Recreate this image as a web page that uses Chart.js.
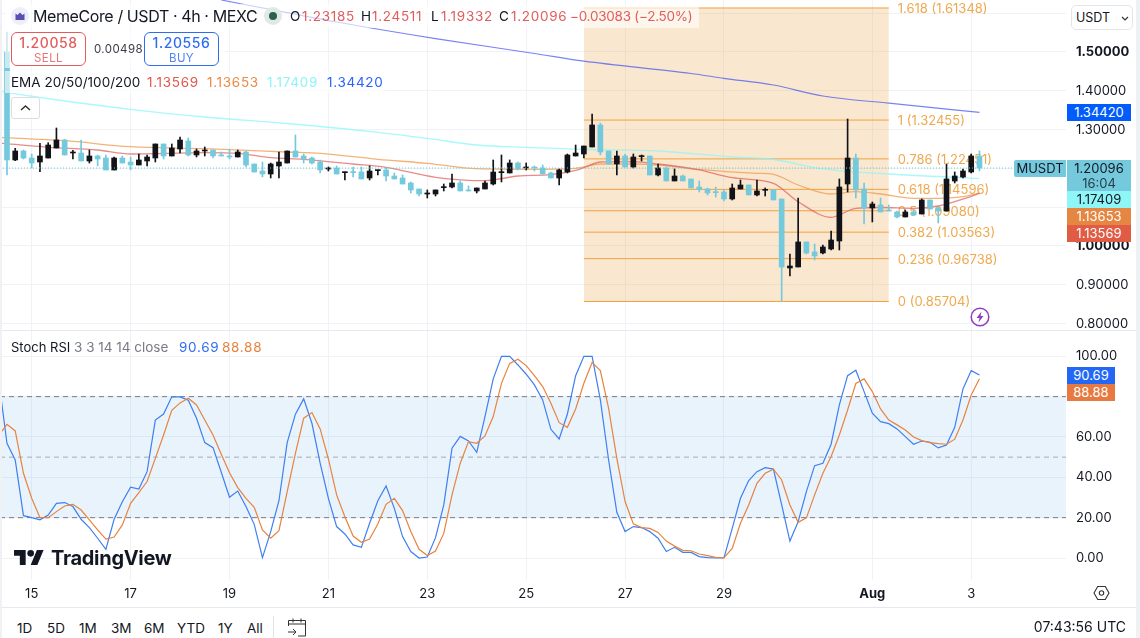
<!DOCTYPE html>
<html>
<head>
<meta charset="utf-8">
<title>MemeCore / USDT</title>
<script src="https://cdn.jsdelivr.net/npm/chart.js@4/dist/chart.umd.min.js"></script>
<style>
html, body { margin: 0; padding: 0; background: #fff; }
body { width: 1140px; height: 638px; overflow: hidden; position: relative; font-family: Inter, sans-serif; color: #131722; }
canvas { position: absolute; left: 0; display: block; }
#priceChart { top: 0; }
#stochChart { top: 331px; }
.abs { position: absolute; white-space: nowrap; }
.fade { position: absolute; background: rgba(255,255,255,.62); }
.tag { position: absolute; left: 1067px; height: 17px; line-height: 17px; text-align: center; font-size: 13px; }
.trade { position: absolute; top: 32px; width: 73px; height: 32px; border-radius: 6px; background: rgba(255,255,255,.7); text-align: center; border: 1px solid; }
.trade b { display: block; font-weight: 500; font-size: 14px; line-height: 18px; margin-top: 1px; letter-spacing: .6px; }
.trade span { display: block; font-size: 11.5px; line-height: 13px; opacity: .85; letter-spacing: .4px; }
.range { position: absolute; top: 619px; font-size: 13.5px; line-height: 18px; color: #131722; }
.ohlc { position: absolute; top: 7px; font-size: 13.5px; line-height: 18px; white-space: nowrap; }
.red { color: #e25c5c; letter-spacing: .7px; }
.row2 { position: absolute; top: 73px; font-size: 13.5px; line-height: 18px; letter-spacing: .7px; white-space: nowrap; }
.row3 { position: absolute; top: 338px; font-size: 13.5px; line-height: 18px; white-space: nowrap; }
</style>
</head>
<body>
<canvas id="priceChart" width="1140" height="330"></canvas>
<canvas id="stochChart" width="1140" height="276"></canvas>

<!-- edges and pane separators -->
<div class="abs" style="left:0;top:0;width:2px;height:638px;background:#f0f1f4"></div>
<div class="abs" style="left:1136px;top:0;width:4px;height:638px;background:#f0f1f4"></div>
<div class="abs" style="left:2px;top:330px;width:1134px;height:1px;background:#e6e8ee"></div>
<div class="abs" style="left:2px;top:607px;width:1134px;height:1px;background:#e6e8ee"></div>

<!-- legend -->
<div class="fade" style="left:5px;top:4px;width:694px;height:24px"></div>
<div class="fade" style="left:5px;top:30px;width:220px;height:38px"></div>
<div class="fade" style="left:5px;top:71px;width:380px;height:22px"></div>

<svg class="abs" style="left:11px;top:7px" width="18" height="18" viewBox="0 0 18 18">
  <circle cx="9" cy="9" r="9" fill="#eeeefa"/>
  <path d="M4.5 13V6.5l2 1.5L9 5.5 11.5 8l2-1.5V13z" fill="#5a4fb0"/>
</svg>
<div class="abs" style="left:33px;top:5px;font-size:16px;line-height:22px;letter-spacing:-.4px">MemeCore / USDT · 4h · MEXC</div>
<svg class="abs" style="left:264px;top:7px" width="18" height="18" viewBox="0 0 18 18">
  <circle cx="9" cy="9" r="9" fill="#dfeae7"/>
  <circle cx="9" cy="9" r="4" fill="#2f5e50"/>
</svg>
<div class="ohlc" style="left:290px">O</div><div class="ohlc red" style="left:302px">1.23185</div>
<div class="ohlc" style="left:361px">H</div><div class="ohlc red" style="left:372px">1.24511</div>
<div class="ohlc" style="left:431px">L</div><div class="ohlc red" style="left:441px">1.19332</div>
<div class="ohlc" style="left:499px">C</div><div class="ohlc red" style="left:511px">1.20096</div>
<div class="ohlc red" style="left:570px;letter-spacing:-.25px">−0.03083 (−2.50%)</div>

<div class="trade" style="left:11px;border-color:#e25c5c;color:#e25c5c"><b>1.20058</b><span>SELL</span></div>
<div class="abs" style="left:94px;top:42px;font-size:11.5px;line-height:15px;color:#3a3d45;letter-spacing:.4px">0.00498</div>
<div class="trade" style="left:144px;border-color:#2f6df0;color:#2f6df0"><b>1.20556</b><span>BUY</span></div>

<div class="row2" style="left:11px;letter-spacing:0">EMA 20/50/100/200</div>
<div class="row2" style="left:147px;color:#e2574c">1.13569</div>
<div class="row2" style="left:207px;color:#ec8a45">1.13653</div>
<div class="row2" style="left:267px;color:#8ef3f8">1.17409</div>
<div class="row2" style="left:327px;color:#2962ff">1.34420</div>

<div class="abs" style="left:11px;top:97px;width:27px;height:20px;border:1px solid #dcdde2;border-radius:3px;background:rgba(255,255,255,.7)">
  <svg style="position:absolute;left:8px;top:6px" width="11" height="8" viewBox="0 0 11 8"><path d="M1 6l4.5-4L10 6" fill="none" stroke="#333" stroke-width="1.5"/></svg>
</div>

<svg class="abs" style="left:970px;top:307px" width="20" height="20" viewBox="0 0 20 20">
  <circle cx="10" cy="10" r="8.8" fill="none" stroke="#8e3fbe" stroke-width="1.5"/>
  <path d="M11.5 4.5L6.5 11h3l-1 4.5 5-6.5h-3z" fill="#8e3fbe"/>
</svg>

<!-- right scale controls and tags -->
<div class="abs" style="left:1071px;top:5px;width:60px;height:23px;border:1px solid #e3e5ea;border-radius:5px;background:#fff;font-size:12.5px;line-height:23px;text-indent:4px">USDT
  <svg style="position:absolute;left:49px;top:10px" width="8" height="5" viewBox="0 0 8 5"><path d="M1 1l3 3 3-3" fill="none" stroke="#333" stroke-width="1.2"/></svg>
</div>
<div class="tag" style="top:104px;width:64px;background:#005cfa;color:#fff">1.34420</div>
<div class="abs" style="left:1014px;top:160px;width:52px;height:17px;line-height:17px;text-align:center;font-size:13px;background:#74c9dd;border-radius:2px 0 0 2px">MUSDT</div>
<div class="tag" style="top:160px;width:64px;height:31px;line-height:15px;padding-top:1px;box-sizing:border-box;background:#74c9dd">1.20096<br><span style="color:#24414a">16:04</span></div>
<div class="tag" style="top:191px;width:64px;background:#8ff6f8">1.17409</div>
<div class="tag" style="top:208px;width:64px;background:#e58642;color:#fff">1.13653</div>
<div class="tag" style="top:225px;width:64px;background:#e05c44;color:#fff">1.13569</div>
<div class="tag" style="top:367px;width:48px;background:#2268f5;color:#fff">90.69</div>
<div class="tag" style="top:384px;width:48px;background:#e67a40;color:#fff">88.88</div>

<!-- stoch legend and logo -->
<div class="row3" style="left:11px;font-size:13px">Stoch RSI</div>
<div class="row3" style="left:74px;color:#787b86">3 3 14 14 close</div>
<div class="row3" style="left:179px;color:#2f6df0;letter-spacing:.7px">90.69</div>
<div class="row3" style="left:222px;color:#e8833f;letter-spacing:.7px">88.88</div>
<svg class="abs" style="left:14px;top:550px" width="30" height="15" viewBox="0 4 36 18">
  <path d="M14 22H7V11H0V4h14v18zM28 22h-8l7.5-18h8L28 22z" fill="#131722"/><circle cx="20" cy="8" r="4" fill="#131722"/>
</svg>
<div class="abs" style="left:51px;top:545px;font-size:20px;line-height:26px;font-weight:700;letter-spacing:-.3px">TradingView</div>

<!-- bottom bar -->
<svg class="abs" style="left:1093px;top:585px" width="17" height="16" viewBox="0 0 17 16">
  <path d="M1 8l3.7-6.5h7.6L16 8l-3.7 6.5H4.7z" fill="none" stroke="#333" stroke-width="1.1"/><circle cx="8.5" cy="8" r="2.2" fill="none" stroke="#333" stroke-width="1.1"/>
</svg>
<div class="range" style="left:17px">1D</div>
<div class="range" style="left:47px">5D</div>
<div class="range" style="left:79px">1M</div>
<div class="range" style="left:111px">3M</div>
<div class="range" style="left:144px">6M</div>
<div class="range" style="left:177px">YTD</div>
<div class="range" style="left:218px">1Y</div>
<div class="range" style="left:247px">All</div>
<div class="abs" style="left:273px;top:616px;width:1px;height:22px;background:#e0e3eb"></div>
<svg class="abs" style="left:287px;top:617px" width="20" height="20" viewBox="0 0 20 20">
  <path d="M1.5 9V3.5h17V19H11M1.5 7h17M6 1.5v4M14 1.5v4M1 15h8M6 12l3 3-3 3" fill="none" stroke="#333" stroke-width="1"/>
</svg>
<div class="abs" style="left:1032px;top:618px;width:94px;font-size:14px;line-height:18px;text-align:right">07:43:56 UTC</div>

<script>
// candles, index 0 is the first 4h bar on screen
const opens = [1.5000,1.2217,1.2449,1.2268,1.2165,1.2268,1.2526,1.2732,1.2397,1.2397,
    1.2191,1.2320,1.2268,1.1959,1.2268,1.2165,1.2088,1.2191,1.2268,1.2629,
    1.2320,1.2500,1.2706,1.2346,1.2449,1.2474,1.2346,1.2320,1.2294,1.2423,
    1.2113,1.1933,1.1856,1.2062,1.2139,1.2449,1.2320,1.2268,1.2165,1.1985,
    1.2011,1.1890,1.1907,1.1907,1.1753,1.1942,1.1959,1.1804,1.1753,1.1624,
    1.1469,1.1340,1.1340,1.1504,1.1521,1.1624,1.1444,1.1418,1.1469,1.1598,
    1.1890,1.1882,1.2139,1.2011,1.2036,1.2011,1.1882,1.1753,1.1907,1.2320,
    1.2371,1.2552,1.3119,1.2449,1.2113,1.2320,1.2036,1.2303,1.2320,1.1830,
    1.2011,1.1676,1.1804,1.1727,1.1521,1.1469,1.1392,1.1392,1.1212,1.1469,
    1.1572,1.1315,1.1435,1.1444,1.1212,0.9433,0.9459,1.0104,0.9846,0.9820,
    0.9923,1.0129,1.1598,1.2268,1.1469,1.0980,1.1057,1.0928,1.0877,1.0748,
    1.0877,1.0825,1.1186,1.0980,1.0902,1.1675,1.1778,1.1907,1.23185];
const highs = [1.5515,1.2517,1.2474,1.2371,1.2646,1.2663,1.3041,1.2749,1.2466,1.2732,
    1.2474,1.2346,1.2346,1.2294,1.2320,1.2294,1.2371,1.2346,1.2629,1.2629,
    1.2629,1.2809,1.2784,1.2500,1.2552,1.2474,1.2423,1.2500,1.2474,1.2449,
    1.2113,1.2165,1.2139,1.2423,1.2449,1.2861,1.2371,1.2294,1.2217,1.2036,
    1.2062,1.1907,1.2036,1.2036,1.2062,1.1959,1.2011,1.1882,1.1830,1.1650,
    1.1469,1.1444,1.1444,1.1598,1.1856,1.1676,1.1547,1.1495,1.1676,1.2217,
    1.2346,1.2217,1.2165,1.2139,1.2062,1.2088,1.1907,1.1985,1.2371,1.2603,
    1.2577,1.3402,1.3170,1.2449,1.2449,1.2371,1.2371,1.2346,1.2320,1.2113,
    1.2036,1.1985,1.1830,1.1727,1.1676,1.1495,1.1521,1.1444,1.1598,1.1701,
    1.1572,1.1701,1.1495,1.1444,1.1212,0.9794,1.1237,1.0104,1.0052,1.0026,
    1.0387,1.1727,1.3273,1.2371,1.1624,1.1134,1.1237,1.1057,1.0902,1.0928,
    1.0928,1.1212,1.1186,1.1006,1.2114,1.1908,1.1985,1.2371,1.24511];
const lows = [1.1830,1.2199,1.2242,1.2011,1.1916,1.2268,1.2526,1.2346,1.2242,1.2191,
    1.2139,1.2062,1.1959,1.1959,1.2139,1.1959,1.2088,1.2062,1.2165,1.2242,
    1.2320,1.2397,1.2320,1.2294,1.2320,1.2268,1.2320,1.2242,1.2294,1.2036,
    1.1907,1.1779,1.1753,1.1753,1.2139,1.2294,1.2139,1.2113,1.1882,1.1933,
    1.1856,1.1701,1.1779,1.1727,1.1701,1.1830,1.1676,1.1727,1.1598,1.1366,
    1.1289,1.1237,1.1289,1.1418,1.1495,1.1418,1.1418,1.1366,1.1469,1.1572,
    1.1650,1.1882,1.1959,1.1959,1.1933,1.1856,1.1753,1.1572,1.1882,1.2320,
    1.2268,1.2552,1.2346,1.2113,1.1830,1.2036,1.2011,1.2191,1.1830,1.1804,
    1.1676,1.1676,1.1676,1.1495,1.1392,1.1315,1.1263,1.1160,1.1186,1.1469,
    1.1315,1.1289,1.1289,1.1186,0.8570,0.9227,0.9459,0.9794,0.9640,0.9794,
    0.9897,0.9897,1.1392,1.1237,1.0567,1.0619,1.0877,1.0902,1.0722,1.0748,
    1.0799,1.0825,1.0954,1.0593,1.0902,1.1624,1.1753,1.1881,1.19332];
const closes = [1.2216,1.2449,1.2268,1.2139,1.2320,1.2603,1.2732,1.2346,1.2414,1.2191,
    1.2320,1.2242,1.1959,1.2268,1.2139,1.2088,1.2217,1.2294,1.2629,1.2320,
    1.2526,1.2732,1.2346,1.2449,1.2474,1.2320,1.2320,1.2294,1.2423,1.2088,
    1.1907,1.1856,1.2113,1.2165,1.2449,1.2294,1.2242,1.2139,1.1959,1.2011,
    1.1856,1.1907,1.1890,1.1727,1.1933,1.1959,1.1804,1.1727,1.1598,1.1444,
    1.1340,1.1366,1.1444,1.1521,1.1624,1.1418,1.1418,1.1495,1.1624,1.1907,
    1.1907,1.2139,1.1985,1.2036,1.2011,1.1856,1.1753,1.1959,1.2346,1.2397,
    1.2577,1.3119,1.2423,1.2113,1.2320,1.2036,1.2294,1.2320,1.1830,1.2011,
    1.1676,1.1804,1.1676,1.1495,1.1452,1.1366,1.1375,1.1212,1.1495,1.1572,
    1.1315,1.1418,1.1452,1.1186,0.9459,0.9485,1.0104,0.9820,0.9743,0.9975,
    1.0155,1.1521,1.2268,1.1444,1.0980,1.1083,1.0877,1.0902,1.0748,1.0877,
    1.0799,1.1186,1.0954,1.0902,1.1727,1.1804,1.1933,1.2320,1.20096];

// moving averages, read at these bar indexes
const ema20Idx = [-1,5,11,15,24,28,32,36,42,46,52,58,62,66,69,70,72,76,79,84,88,93,96,100,103,106,110,113,116,118];
const ema20Values = [1.2655,1.2544,1.2474,1.2371,1.2405,1.2389,1.2276,1.2234,1.2113,1.2028,1.1771,1.1683,1.1804,1.1838,1.1946,1.2018,1.2165,1.2173,1.2113,1.1959,1.1760,1.1616,1.1142,1.0740,1.0972,1.0992,1.0972,1.1031,1.1211,1.13569];
const ema50Idx = [-1,7,15,24,34,38,45,51,57,63,69,72,76,79,84,91,93,96,100,103,106,110,113,116,118];
const ema50Values = [1.2802,1.2714,1.2559,1.2508,1.2423,1.2389,1.2234,1.2131,1.1992,1.1977,1.2003,1.2113,1.2113,1.2088,1.1977,1.1874,1.1848,1.1572,1.1340,1.1399,1.1340,1.1229,1.1229,1.1271,1.13653];
const ema100Idx = [-1,7,15,24,34,45,51,57,63,70,79,88,93,99,107,118];
const ema100Values = [1.3982,1.3737,1.3523,1.3325,1.3157,1.2930,1.2776,1.2603,1.2544,1.2492,1.2448,1.2294,1.2229,1.1985,1.1856,1.17409];
const ema200Idx = [26,34,40,52,64,70,83,87,93,99,107,118];
const ema200Values = [1.6340,1.6013,1.5773,1.5345,1.4961,1.4763,1.4446,1.4322,1.4149,1.3866,1.3680,1.34420];

const lastPrice = 1.20096;

// fib retracement
const fibLevels = ["0","0.236","0.382","0.5","0.618","0.786","1","1.618"];
const fibPrices = [0.85704,0.96738,1.03563,1.09080,1.14596,1.22451,1.32455,1.61348];
const fibFrom = 70;
const fibTo = 107;

// stoch rsi, first value belongs to bar -1 which is cut by the left edge
const stochK = [88.3,56.9,48.6,21.0,20.0,18.9,21.3,27.1,27.5,25.5,19.2,15.1,9.8,4.3,19.2,27.9,35.1,34.2,42.8,68.4,
    71.4,79.9,79.9,78.2,69.3,57.2,54.7,42.5,30.1,33.2,25.5,16.7,0.2,13.1,28.4,57.2,71.3,78.9,66.8,47.0,
    29.6,15.6,11.9,6.5,5.3,17.2,28.4,35.7,24.6,10.6,3.2,0.0,0.5,10.1,26.3,54.4,60.3,58.0,52.4,70.1,
    88.8,100,100,95.7,91.1,85.8,78.4,63.8,59.0,71.4,90.4,100,100,78.4,48.6,22.7,13.1,15.6,15.1,13.1,
    9.8,3.2,5.3,2.8,2.8,0.7,0.2,0.0,0.0,14.7,29.6,38.4,42.8,44.8,44.1,26.3,8.4,18.0,32.9,45.8,
    47.0,56.4,75.9,90.4,93.1,82.5,71.8,67.6,66.6,64.0,60.2,56.4,58.0,57.4,54.6,56.0,64.8,83.8,92.9,90.69];
const stochD = [60.7,66.3,63.0,42.0,29.6,20.0,20.0,23.0,25.8,26.6,23.8,18.9,13.9,9.4,10.4,16.4,27.1,32.4,37.9,49.4,
    61.0,73.2,76.9,79.2,75.9,68.4,61.0,51.4,42.3,34.9,29.6,25.1,13.9,9.8,13.6,32.9,51.9,69.3,72.1,64.0,
    49.1,31.3,20.5,10.9,7.8,9.4,16.9,26.6,29.6,23.5,13.1,4.3,1.2,3.5,12.2,31.3,47.0,57.7,56.9,60.5,
    70.1,86.6,96.5,98.5,95.4,90.4,85.0,76.7,67.1,64.8,73.9,86.6,96.9,92.9,74.2,49.4,28.0,16.9,15.1,14.7,
    12.7,8.4,5.9,3.8,3.6,2.0,1.2,0.3,0.2,4.8,17.2,26.3,37.0,42.0,44.0,38.7,26.3,17.7,19.9,31.3,
    42.0,50.3,61.0,73.4,86.5,88.8,82.5,73.9,68.4,66.0,63.5,60.0,58.2,57.2,56.7,56.4,58.9,68.4,80.8,88.88];
const stochStart = -1;

// axes
const dayTicks = [3,15,27,39,51,63,75,87,105,117];
const dayLabels = ["15","17","19","21","23","25","27","29","Aug","3"];
const priceTicks = [0.8,0.9,1.0,1.1,1.2,1.3,1.4,1.5,1.6];
const priceBold = [1.0,1.5];
const stochTicks = [0,20,40,60,80,100];
const stochBands = [20,50,80];

const xMin = -0.847;
const xMax = 128.5;
const upColor = "#111318";
const downColor = "#74c9dd";
const gridColor = "#f0f2f6";
const axisWidth = 74;
const fontName = "Inter";

const pts = (idx, vals) => idx.map((x, i) => ({ x: x, y: vals[i] }));
const hline = (y, from, to) => [{ x: from, y: y }, { x: to, y: y }];

const lineSet = (data, color, width, order, extra) => Object.assign({
    type: "line",
    data: data,
    borderColor: color,
    borderWidth: width,
    pointRadius: 0,
    fill: false,
    order: order,
}, extra || {});

const emaSet = (idx, vals, color, width) => lineSet(pts(idx, vals), color, width, 4, { cubicInterpolationMode: "monotone" });

const xScale = (showLabels) => ({
    type: "linear",
    bounds: "data",
    min: xMin,
    max: xMax,
    offset: false,
    border: { display: false },
    grid: { color: gridColor, drawTicks: false, offset: false },
    afterBuildTicks: (scale) => { scale.ticks = dayTicks.map((v) => ({ value: v })); },
    afterFit: (scale) => {
        scale.height = showLabels ? 27 : 0;
        scale.paddingLeft = 0;
        scale.paddingRight = 0;
    },
    ticks: {
        display: showLabels,
        autoSkip: false,
        maxRotation: 0,
        padding: 6,
        color: "#131722",
        font: (ctx) => ({ family: fontName, size: 13, weight: ctx.tick && ctx.tick.value === 105 ? "bold" : "normal" }),
        callback: (v) => dayLabels[dayTicks.indexOf(v)],
    },
});

// right hand value axis, no extra room above and below the pane
const yScale = (min, max, tickValues, labelFn, fontFn) => ({
    type: "linear",
    bounds: "data",
    position: "right",
    min: min,
    max: max,
    border: { display: false },
    grid: { color: gridColor, drawTicks: false },
    afterBuildTicks: (scale) => { scale.ticks = tickValues.map((v) => ({ value: v })); },
    afterFit: (scale) => {
        scale.width = axisWidth;
        scale.paddingTop = 0;
        scale.paddingBottom = 0;
    },
    ticks: {
        autoSkip: false,
        padding: 10,
        color: "#131722",
        font: fontFn,
        callback: labelFn,
    },
});

const candleColors = closes.map((c, i) => (c >= opens[i] ? upColor : downColor));
const wickData = lows.map((l, i) => ({ x: i, y: [l, highs[i]] }));
const bodyData = opens.map((o, i) => ({ x: i, y: [Math.min(o, closes[i]), Math.max(o, closes[i])] }));

// fib labels sit under the candles
const fibLabelPlugin = {
    id: "fibLabels",
    beforeDatasetsDraw(chart) {
        const { ctx, scales } = chart;
        ctx.save();
        ctx.font = "13px " + fontName;
        ctx.fillStyle = "#efa94f";
        ctx.textAlign = "left";
        ctx.textBaseline = "middle";
        fibLevels.forEach((level, i) => {
            const text = level + " (" + fibPrices[i].toFixed(5) + ")";
            ctx.fillText(text, scales.x.getPixelForValue(fibTo) + 9, scales.y.getPixelForValue(fibPrices[i]) + 1);
        });
        ctx.restore();
    },
};

const fibSets = fibPrices.map((p) => lineSet(hline(p, fibFrom, fibTo), "#f2a13f", 1, 5));

new Chart(document.getElementById("priceChart"), {
    type: "bar",
    data: {
        datasets: [
            { data: bodyData, backgroundColor: candleColors, barThickness: 5, minBarLength: 1, grouped: false, order: 1 },
            { data: wickData, backgroundColor: candleColors, barThickness: 1, grouped: false, order: 2 },
            lineSet(hline(lastPrice, xMin, xMax), "#5fcfe0", 1, 0, { borderDash: [1, 2] }),
            emaSet(ema20Idx, ema20Values, "rgba(226,100,95,.75)", 1.3),
            emaSet(ema50Idx, ema50Values, "rgba(240,160,85,.8)", 1.3),
            emaSet(ema100Idx, ema100Values, "rgba(140,245,250,.75)", 1.3),
            emaSet(ema200Idx, ema200Values, "rgba(75,90,240,.75)", 1.2),
            ...fibSets,
            lineSet(hline(fibPrices[7], fibFrom, fibTo), "rgba(0,0,0,0)", 0, 6, {
                fill: { value: fibPrices[0] },
                backgroundColor: "rgba(235,175,95,.3)",
            }),
        ],
    },
    plugins: [fibLabelPlugin],
    options: {
        responsive: false,
        animation: false,
        events: [],
        layout: { padding: 0 },
        plugins: { legend: { display: false }, tooltip: { enabled: false } },
        scales: {
            x: xScale(false),
            y: yScale(0.7835, 1.634, priceTicks,
                (v) => (v > 1.55 ? "" : v.toFixed(5)),
                (ctx) => ({ family: fontName, size: 13, weight: ctx.tick && priceBold.includes(ctx.tick.value) ? "bold" : "normal" })),
        },
    },
});

new Chart(document.getElementById("stochChart"), {
    type: "line",
    data: {
        datasets: [
            lineSet(stochD.map((v, i) => ({ x: stochStart + i, y: v })), "#e8833f", 1.2, 1),
            lineSet(stochK.map((v, i) => ({ x: stochStart + i, y: v })), "#3f7ff0", 1.2, 2),
            lineSet(hline(stochBands[2], xMin, xMax), "#787b86", 1, 3, { borderDash: [5, 4] }),
            lineSet(hline(stochBands[1], xMin, xMax), "#a9acb5", 1, 3, { borderDash: [5, 4] }),
            lineSet(hline(stochBands[0], xMin, xMax), "#787b86", 1, 3, { borderDash: [5, 4] }),
            lineSet(hline(stochBands[2], xMin, xMax), "rgba(0,0,0,0)", 0, 6, {
                fill: { value: stochBands[0] },
                backgroundColor: "rgba(33,140,225,.1)",
            }),
        ],
    },
    options: {
        responsive: false,
        animation: false,
        events: [],
        layout: { padding: 0 },
        plugins: { legend: { display: false }, tooltip: { enabled: false } },
        scales: {
            x: xScale(true),
            y: yScale(-10.9, 112.54, stochTicks, (v) => v.toFixed(2), { family: fontName, size: 13 }),
        },
    },
});
</script>
</body>
</html>
